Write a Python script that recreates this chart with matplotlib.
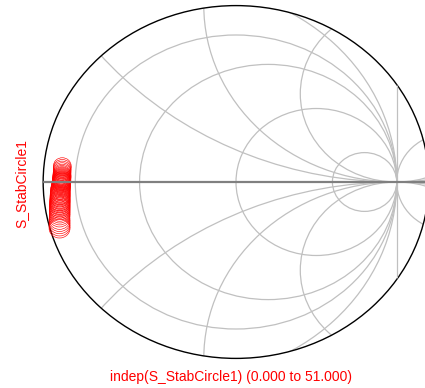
import matplotlib
matplotlib.use("Agg")
import matplotlib.pyplot as plt
from matplotlib.patches import Circle
import numpy as np

plt.rcParams['font.family'] = ['Liberation Sans', 'DejaVu Sans']

# Smith chart grid values (compressed chart, |Gamma| up to 1.2)
gamma_max = 1.2
resistances = [0.0, 0.25, 1.0, 4.0]
neg_resistances = [-0.25, -4.0]
reactances = [0.417, 0.833, 1.667]

# Stability circles (Gamma plane): centers and radii, index 0..50
circle_re = [-1.081, -1.081, -1.082, -1.082, -1.082, -1.083, -1.083, -1.083, -1.083, -1.084,
             -1.084, -1.084, -1.084, -1.085, -1.085, -1.085, -1.086, -1.086, -1.087, -1.087,
             -1.088, -1.089, -1.090, -1.091, -1.092,
             -1.093, -1.093, -1.094, -1.094, -1.094, -1.095, -1.095, -1.095, -1.095, -1.096,
             -1.096, -1.096, -1.096, -1.096, -1.097, -1.097, -1.097, -1.097, -1.097, -1.097,
             -1.098, -1.098, -1.098, -1.098, -1.098, -1.098]
circle_im = [0.110, 0.098, 0.087, 0.076, 0.066, 0.057, 0.049, 0.042, 0.036, 0.031,
             0.026, 0.021, 0.017, 0.013, 0.009, 0.005, 0.001, -0.003, -0.008, -0.013,
             -0.019, -0.026, -0.033, -0.040,
             -0.048, -0.057, -0.066, -0.075, -0.084, -0.092, -0.100, -0.108, -0.116, -0.124,
             -0.132, -0.140, -0.148, -0.156, -0.164, -0.173, -0.182, -0.192, -0.203, -0.215,
             -0.228, -0.242, -0.257, -0.272, -0.287, -0.302, -0.316]
circle_rad = [0.055, 0.055, 0.055, 0.055, 0.055, 0.055, 0.055, 0.056, 0.056, 0.056,
              0.056, 0.056, 0.056, 0.056, 0.057, 0.057, 0.057, 0.057, 0.058, 0.058,
              0.058, 0.059, 0.059, 0.060, 0.060,
              0.061, 0.061, 0.061, 0.062, 0.062, 0.062, 0.062, 0.062, 0.063, 0.063,
              0.063, 0.063, 0.063, 0.063, 0.064, 0.064, 0.064, 0.064, 0.064, 0.064,
              0.064, 0.065, 0.065, 0.065, 0.065, 0.065]

y_label = "S_StabCircle1"
x_label = "indep(S_StabCircle1) (0.000 to 51.000)"

W, H = 425, 388
fig = plt.figure(figsize=(W / 100, H / 100), dpi=100)
ax = fig.add_axes([0, 0, 1, 1])
cx_px, cy_px, sx, sy = 236.0, 182.0, 160.7, 147.0
ax.set_xlim(-cx_px / sx, (W - cx_px) / sx)
ax.set_ylim((cy_px - H) / sy, cy_px / sy)
ax.set_axis_off()

grid_c = '#c0c0c0'
clip = Circle((0, 0), gamma_max, transform=ax.transData, fill=False)

def add_circle(center, radius, **kw):
    p = Circle(center, radius, fill=False, **kw)
    ax.add_patch(p)
    p.set_clip_path(clip)
    return p

for r in resistances + neg_resistances:
    add_circle((r / (1 + r), 0), abs(1 / (1 + r)), edgecolor=grid_c, lw=0.9)
# r = -1 : straight line Re(Gamma) = 1
ln, = ax.plot([1, 1], [-gamma_max, gamma_max], color=grid_c, lw=0.9)
ln.set_clip_path(clip)
for x in reactances:
    for s in (1, -1):
        add_circle((1, s / x), 1 / x, edgecolor=grid_c, lw=0.9)

# real axis
hl, = ax.plot([-gamma_max, gamma_max], [0, 0], color='#808080', lw=1.6)
hl.set_clip_path(clip)

# outer boundary
ax.add_patch(Circle((0, 0), gamma_max, fill=False, edgecolor='black', lw=1.0))

# stability circles
for re_, im_, rad in zip(circle_re, circle_im, circle_rad):
    ax.add_patch(Circle((re_, im_), rad, fill=False, edgecolor='#ff0000', lw=0.45))

fig.text(21.5 / W, 1 - 184 / H, y_label, color='#ff0000', fontsize=10,
         rotation=90, ha='center', va='center')
fig.text(231.5 / W, 1 - 377 / H, x_label, color='#ff0000', fontsize=10,
         ha='center', va='center')

fig.savefig('out.png', dpi=100)
